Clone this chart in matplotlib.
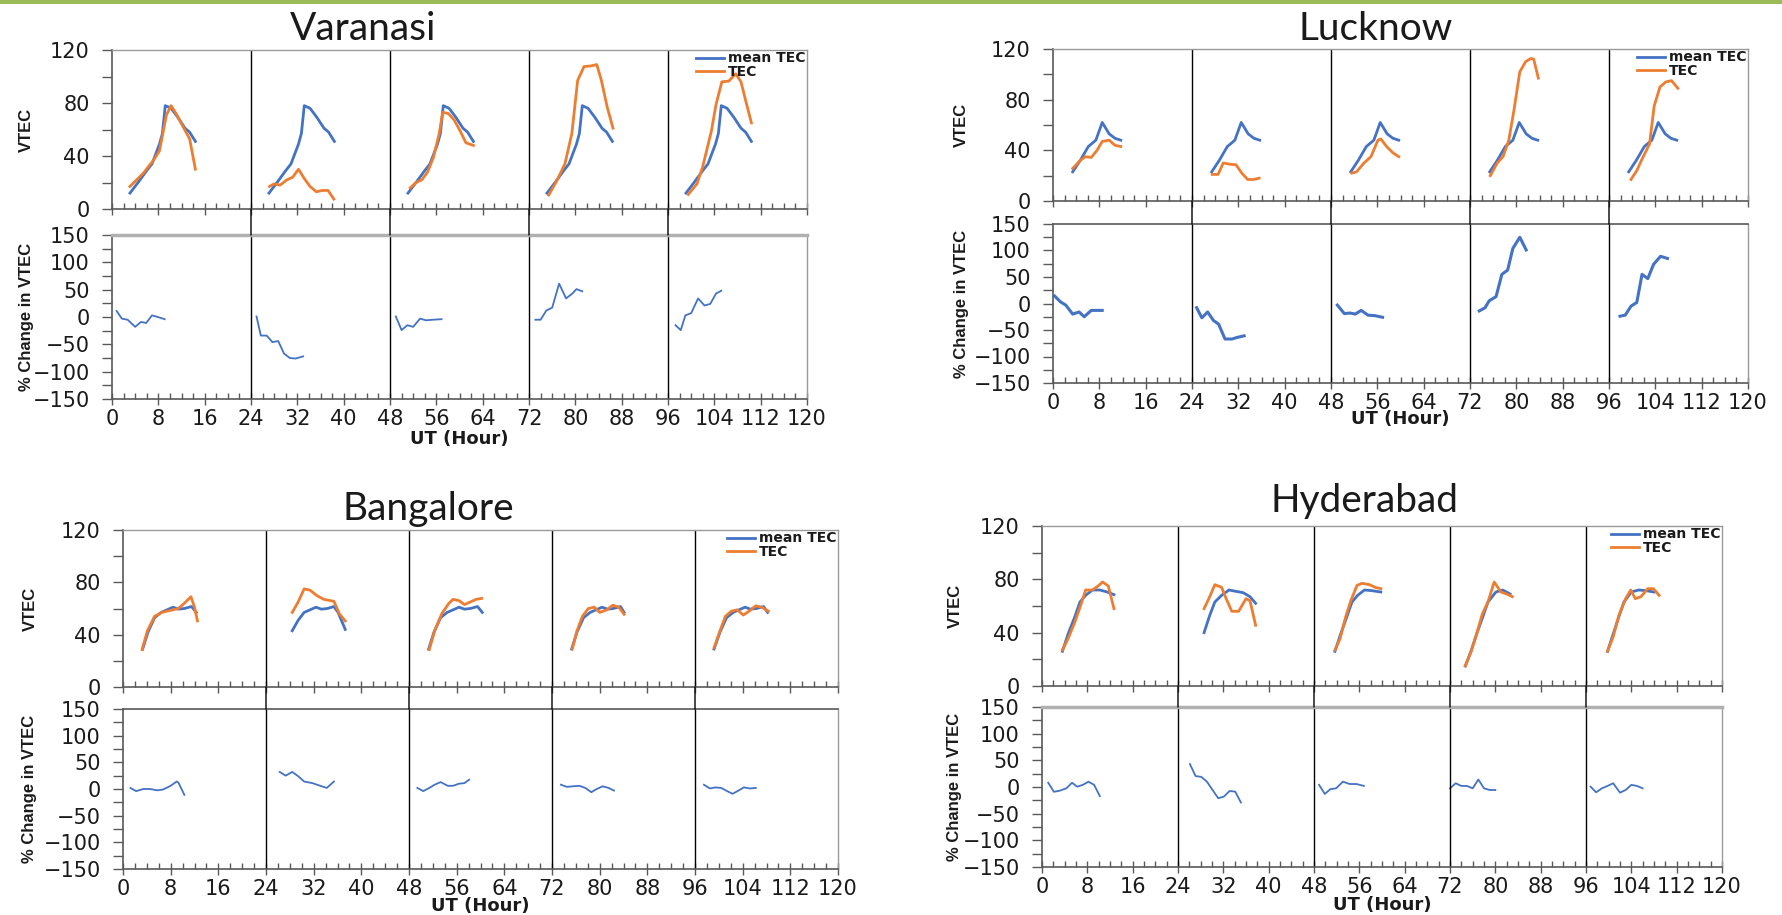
import numpy as np
import matplotlib.pyplot as plt
from matplotlib.patches import ConnectionPatch, Rectangle
from matplotlib.ticker import MultipleLocator

# ---- data (hours are within each day; day d is shifted by 24*d) ----
DAYS = [0, 24, 48, 72, 96]

# Varanasi
VAR_MEAN_H = [3.1, 4.5, 6.0, 6.9, 8.2, 8.7, 9.2, 10.2, 11.4, 12.6, 13.4, 14.4]
VAR_MEAN_V = [12, 20, 29, 34, 49, 57, 78, 76, 69, 61, 58, 51]
VAR_TEC_H = [[3.1, 5.4, 7.2, 8.2, 9.4, 10.2, 11.2, 12.4, 13.4, 14.4],
             [3.2, 4.0, 5.0, 6.2, 7.2, 8.2, 9.2, 10.2, 11.3, 12.3, 13.3, 14.3],
             [3.5, 4.5, 5.5, 6.5, 7.5, 8.5, 9.1, 10.1, 11.1, 12.1, 13.1, 14.4],
             [3.4, 4.7, 6.2, 7.4, 8.4, 9.5, 10.7, 11.7, 12.5, 13.5, 14.5],
             [3.5, 5.0, 6.0, 7.5, 8.3, 9.3, 10.5, 11.7, 12.6, 13.4, 14.4]]
VAR_TEC_V = [[17, 27, 37, 44, 71, 78, 71, 61, 53, 30],
             [17, 19, 18, 22, 24, 30, 23, 17, 13, 14, 14, 7.5],
             [16, 20, 22, 28, 39, 57, 73, 72, 67, 59, 50, 48],
             [10.5, 20.5, 34, 57, 97, 107.5, 108, 109, 97, 77, 61],
             [11, 19, 32, 59, 79, 96, 96.5, 102, 96, 82, 65]]
VAR_PCT_H = [[0.8, 1.7, 2.7, 4.0, 5.0, 5.9, 6.9, 7.9, 9.1],
             [0.95, 1.7, 2.7, 3.7, 4.7, 5.7, 6.7, 7.7, 9.0],
             [1.0, 2.0, 3.0, 4.0, 5.2, 6.2, 7.4, 8.9],
             [1.1, 2.0, 3.0, 4.0, 5.2, 6.4, 7.5, 8.2, 9.2],
             [1.3, 2.2, 3.0, 4.0, 5.2, 6.3, 7.3, 8.3, 9.2]]
VAR_PCT_V = [[11, -3, -5, -18, -9, -11, 3, 0, -4],
             [1, -34, -34, -46, -44, -67, -75, -76, -72],
             [1, -24, -15, -18, -3, -6, -5, -4],
             [-5, -5, 12, 17, 61, 34, 43, 51, 47],
             [-15, -24, 3, 7, 34, 21, 24, 43, 48]]

# Lucknow
LKO_MEAN_H = [3.4, 4.7, 6.1, 7.4, 8.5, 9.7, 10.7, 11.7]
LKO_MEAN_V = [23, 32, 43, 48, 62, 53, 49.5, 48]
LKO_TEC_H = [[3.4, 4.7, 5.6, 6.6, 7.6, 8.5, 9.7, 10.7, 11.7],
             [3.5, 4.5, 5.4, 6.6, 7.6, 8.6, 9.6, 10.6, 11.6],
             [3.6, 4.4, 5.7, 6.9, 8.1, 8.6, 9.6, 10.7, 11.7],
             [3.5, 4.7, 5.7, 6.7, 7.6, 8.6, 9.6, 10.5, 11.0, 11.8],
             [3.8, 4.8, 5.8, 7.0, 7.8, 8.8, 9.8, 10.8, 11.9]]
LKO_TEC_V = [[25.7, 32, 35, 34.4, 40, 47, 48, 44, 43],
             [21, 21, 30, 29, 28.6, 22, 17, 17, 18],
             [22, 23, 30, 35, 48, 49, 43, 38, 35],
             [20, 30, 35, 48, 72, 102, 110, 112.5, 112, 97],
             [17, 24, 34, 45, 75, 90, 94, 95, 89]]
LKO_PCT_H = [[0.3, 1.3, 2.2, 3.4, 4.5, 5.4, 6.6, 7.6, 8.5],
             [0.8, 1.7, 2.7, 3.7, 4.6, 5.7, 6.9, 7.8, 9.0],
             [1.1, 2.3, 3.3, 4.2, 5.2, 6.4, 7.6, 8.9],
             [1.6, 2.6, 3.3, 4.5, 5.5, 6.5, 7.4, 8.6, 9.7],
             [1.9, 2.8, 3.8, 4.8, 5.7, 6.7, 7.7, 8.9, 10.1]]
LKO_PCT_V = [[14, 3, -3, -20, -16, -25, -13, -13, -13],
             [-8, -27, -16, -32, -39, -67, -67, -64, -61],
             [-3, -19, -18, -20, -13, -22, -23, -26],
             [-14, -8, 5, 13, 55, 63, 104, 125, 101],
             [-24, -22, -5, 2, 55, 47, 74, 89, 85]]

# Bangalore
BLR_MEAN_H = [[3.3, 4.2, 5.3, 6.4, 7.4, 8.4, 9.3, 10.3, 11.5, 12.3],
              [4.4, 5.4, 6.4, 7.4, 8.4, 9.3, 10.3, 11.4, 12.1, 13.3],
              [3.3, 4.2, 5.3, 6.4, 7.4, 8.4, 9.3, 10.3, 11.5, 12.3],
              [3.3, 4.2, 5.3, 6.4, 7.4, 8.4, 9.3, 10.3, 11.5, 12.1],
              [3.2, 4.2, 5.3, 6.4, 7.4, 8.4, 9.3, 10.3, 11.5, 12.2]]
BLR_MEAN_V = [[29, 42, 53, 57, 59, 61, 59.5, 60, 61.5, 57],
              [43, 51, 57, 59, 61, 59.5, 60, 61.5, 57, 44],
              [29, 42, 53, 57, 59, 61, 59.5, 60, 61.5, 57],
              [29, 42, 53, 57, 59, 61, 59.5, 60, 61.5, 57],
              [29, 42, 53, 57, 59, 61, 59.5, 60, 61.5, 57]]
BLR_TEC_H = [[3.2, 4.1, 5.3, 6.5, 7.4, 8.4, 9.3, 10.3, 11.4, 12.0, 12.5],
             [4.4, 5.4, 6.4, 7.4, 8.5, 9.7, 11.4, 12.3, 13.3],
             [3.4, 4.3, 5.5, 6.7, 7.4, 8.4, 9.3, 10.3, 11.3, 12.2],
             [3.4, 4.2, 5.1, 6.1, 7.1, 8.0, 9.2, 10.2, 11.2, 12.1],
             [3.2, 4.2, 5.1, 6.1, 7.1, 8.1, 9.1, 10.2, 11.2, 12.3]]
BLR_TEC_V = [[28.6, 43, 54, 57, 58, 59, 60, 64, 69, 61, 50.5],
             [57, 65, 75, 74, 70, 67, 65.5, 56, 50.5],
             [28.6, 43, 56, 64, 67, 66, 63, 65, 67, 67.7],
             [29, 43, 54, 60, 61, 57, 59, 62.5, 61, 55.6],
             [30, 43, 54, 58, 59, 55, 58, 62, 61, 58]]
BLR_PCT_H = [[1.25, 2.2, 3.4, 4.5, 5.8, 6.7, 8.0, 9.0, 9.3, 10.3],
             [2.3, 3.3, 4.4, 5.4, 6.4, 7.8, 9.1, 10.2, 11.4],
             [1.4, 2.4, 3.4, 4.3, 5.3, 6.5, 7.4, 8.4, 9.3, 10.1],
             [1.5, 2.5, 3.5, 4.6, 5.6, 6.6, 7.5, 8.5, 9.5, 10.4],
             [1.5, 2.5, 3.4, 4.4, 5.4, 6.3, 7.3, 8.2, 9.2, 10.2]]
BLR_PCT_V = [[2, -4, 0, 0, -2.5, -1, 6, 14, 12, -11],
             [32, 25, 32, 24, 14, 11, 6, 2, 14],
             [2, -4, 2, 8, 13, 6, 6, 10, 11, 17.5],
             [8, 4, 5, 6, 2, -6, 0, 5, 2, -3],
             [8, 1, 3, 2, -4, -9, -3, 3, 1, 2]]

# Hyderabad
HYD_MEAN_H = [[3.6, 4.6, 5.8, 6.7, 7.7, 8.9, 10.2, 11.5, 12.7],
              [4.6, 5.6, 6.5, 7.7, 9.0, 10.2, 11.5, 12.7, 13.7],
              [3.7, 4.7, 5.8, 6.7, 7.7, 8.9, 10.2, 11.8],
              [2.7, 3.7, 4.7, 5.8, 6.7, 8.1, 9.3, 10.6],
              [3.8, 4.8, 5.8, 6.7, 8.0, 9.3, 10.6, 12.0]]
HYD_MEAN_V = [[26, 39, 52, 63, 68, 72, 72, 70.5, 68.5],
              [40, 53, 63, 68, 72, 71, 70, 67, 62],
              [26, 39, 52, 63, 68, 72, 71.5, 70.5],
              [15, 26, 39, 52, 63, 70.5, 72, 69],
              [26, 39, 52, 63, 70.5, 72, 71.5, 70.5]]
HYD_TEC_H = [[3.6, 4.6, 5.8, 6.7, 7.7, 8.9, 9.9, 10.7, 11.7, 12.7],
             [4.6, 5.6, 6.5, 7.7, 8.5, 9.5, 10.7, 12.0, 12.7, 13.7],
             [3.7, 4.6, 5.6, 6.5, 7.6, 8.5, 9.8, 10.8, 11.8],
             [2.7, 3.7, 4.7, 5.7, 6.7, 7.8, 9.0, 10.0, 11.0],
             [3.8, 4.8, 5.8, 7.0, 7.9, 8.7, 9.7, 10.9, 11.9, 12.9]]
HYD_TEC_V = [[27, 35.5, 48, 59, 72, 72, 75, 78, 75, 58],
             [58, 67, 76, 74, 65.5, 56, 56, 65.5, 64, 45.5],
             [27, 35.5, 52, 64, 75.5, 77, 76, 74, 73],
             [15, 25.5, 39, 54, 63, 78, 70.5, 69, 67],
             [26, 37, 53, 65.5, 72, 65.5, 67, 73, 73, 68]]
HYD_PCT_H = [[1.1, 2.1, 3.1, 4.3, 5.3, 6.2, 7.2, 8.2, 9.2, 10.2],
             [2.1, 3.1, 4.1, 5.1, 6.1, 7.1, 8.1, 9.1, 10.1, 11.1],
             [0.9, 1.9, 2.9, 3.9, 5.1, 6.3, 7.5, 8.8],
             [0.0, 1.0, 2.0, 3.0, 4.0, 5.0, 6.0, 7.0, 8.0],
             [0.8, 1.8, 2.8, 3.8, 4.8, 6.0, 7.0, 8.0, 9.0, 10.0]]
HYD_PCT_V = [[8, -9, -7, -2.5, 8, 0.6, 4, 10, 4, -17],
             [43, 20.5, 19, 10, -5.6, -21, -18, -7.5, -8.7, -29],
             [4, -13, -4, -2.5, 10, 5.6, 5.6, 2],
             [-2.5, 7, 2, 2, -2.5, 14, -2.5, -5.6, -5.6],
             [0.6, -10, -2.5, 2, 7, -10.6, -5.6, 4, 2, -2.5]]

BLUE = '#4472C4'
ORANGE = '#ED7D31'
DARK = '#595959'
LIGHT = '#9a9a9a'

W, H = 1782, 915


def rect(l, t, r, b):
    return [l / W, 1 - b / H, (r - l) / W, (b - t) / H]


def style_axes(ax, top_color, top_lw):
    ax.set_xlim(0, 120)
    ax.xaxis.set_major_locator(MultipleLocator(8))
    ax.xaxis.set_minor_locator(MultipleLocator(2))
    ax.tick_params(axis='x', which='major', direction='inout', length=9,
                   width=1, color=DARK, labelsize=15, pad=3)
    ax.tick_params(axis='x', which='minor', direction='in', length=4,
                   width=1, color=DARK)
    ax.tick_params(axis='y', which='both', direction='out', length=7,
                   width=1, color=DARK, labelsize=15, pad=9)
    for s in ['left', 'bottom']:
        ax.spines[s].set_color(DARK)
        ax.spines[s].set_linewidth(1.2)
    ax.spines['right'].set_color(LIGHT)
    ax.spines['right'].set_linewidth(1)
    ax.spines['top'].set_color(top_color)
    ax.spines['top'].set_linewidth(top_lw)


def draw_station(fig, name, top_box, bot_box, title_xy, ylab_x, xlab_y,
                 mean_h, mean_v, tec_h, tec_v, pct_h, pct_v, pct_lw,
                 sep_color, sep_lw):
    ax1 = fig.add_axes(rect(*top_box))
    ax2 = fig.add_axes(rect(*bot_box))

    for d, off in enumerate(DAYS):
        ax1.plot(np.array(mean_h[d]) + off, mean_v[d], color=BLUE, lw=2,
                 label='mean TEC' if d == 0 else None, solid_joinstyle='round')
        ax1.plot(np.array(tec_h[d]) + off, tec_v[d], color=ORANGE, lw=2,
                 label='TEC' if d == 0 else None, solid_joinstyle='round')
        ax2.plot(np.array(pct_h[d]) + off, pct_v[d], color=BLUE, lw=pct_lw,
                 solid_joinstyle='round')

    style_axes(ax1, LIGHT, 1)
    ax1.set_ylim(0, 120)
    ax1.yaxis.set_major_locator(MultipleLocator(40))
    ax1.yaxis.set_minor_locator(MultipleLocator(20))
    ax1.tick_params(axis='x', labelbottom=False)

    style_axes(ax2, sep_color, sep_lw)
    ax2.set_ylim(-150, 150)
    ax2.yaxis.set_major_locator(MultipleLocator(50))
    ax2.yaxis.set_minor_locator(MultipleLocator(25))

    for x in DAYS[1:]:
        ax1.axvline(x, color='black', lw=1)
        ax2.axvline(x, color='black', lw=1)
        con = ConnectionPatch(xyA=(x, 0), coordsA=ax1.transData,
                              xyB=(x, 150), coordsB=ax2.transData,
                              color='black', lw=1)
        fig.add_artist(con)

    ax1.legend(loc='upper right', bbox_to_anchor=(1.0, 1.0),
               frameon=False, borderaxespad=0.0, borderpad=0.1,
               handlelength=2.0, handletextpad=0.3, labelspacing=-0.05,
               prop={'family': 'DejaVu Sans', 'weight': 'bold', 'size': 10})

    fig.text(title_xy[0] / W, 1 - title_xy[1] / H, name, ha='center',
             va='baseline', fontsize=28, family='Lato')

    lab = dict(rotation=90, ha='center', va='center', fontsize=12,
               fontweight='bold', family='Liberation Sans')
    fig.text(ylab_x / W, 1 - (top_box[1] + top_box[3]) / 2 / H, 'VTEC', **lab)
    fig.text(ylab_x / W, 1 - (bot_box[1] + bot_box[3]) / 2 / H,
             '% Change in VTEC', **lab)
    fig.text((bot_box[0] + bot_box[2]) / 2 / W, 1 - xlab_y / H, 'UT (Hour)',
             ha='center', va='center', fontsize=13, fontweight='bold',
             family='DejaVu Sans')


plt.rcParams['font.family'] = 'DejaVu Sans'
plt.rcParams['text.color'] = '#1a1a1a'
plt.rcParams['xtick.color'] = '#1a1a1a'
plt.rcParams['ytick.color'] = '#1a1a1a'

fig = plt.figure(figsize=(W / 100, H / 100), dpi=100)
fig.patch.set_facecolor('white')

# green header strip
fig.add_artist(Rectangle((0, 1 - 4 / H), 1, 4 / H, transform=fig.transFigure,
                         color='#9BBB59', lw=0))

draw_station(fig, 'Varanasi', (112, 50, 807, 209), (112, 235, 807, 399),
             (363, 40), 26, 439,
             [VAR_MEAN_H] * 5, [VAR_MEAN_V] * 5, VAR_TEC_H, VAR_TEC_V,
             VAR_PCT_H, VAR_PCT_V, 1.3, '#b0b0b0', 2.5)

draw_station(fig, 'Lucknow', (1053, 49, 1748, 201), (1053, 224, 1748, 383),
             (1376, 40), 961, 419,
             [LKO_MEAN_H] * 5, [LKO_MEAN_V] * 5, LKO_TEC_H, LKO_TEC_V,
             LKO_PCT_H, LKO_PCT_V, 2.2, DARK, 1.2)

draw_station(fig, 'Bangalore', (123, 530, 838, 687), (123, 709, 838, 869),
             (428, 520), 30, 906,
             BLR_MEAN_H, BLR_MEAN_V, BLR_TEC_H, BLR_TEC_V,
             BLR_PCT_H, BLR_PCT_V, 1.3, DARK, 1.2)

draw_station(fig, 'Hyderabad', (1042, 526, 1722, 686), (1042, 707, 1722, 867),
             (1365, 512), 955, 905,
             HYD_MEAN_H, HYD_MEAN_V, HYD_TEC_H, HYD_TEC_V,
             HYD_PCT_H, HYD_PCT_V, 1.3, '#b0b0b0', 2.5)

fig.savefig('out.png', dpi=100, facecolor='white')
